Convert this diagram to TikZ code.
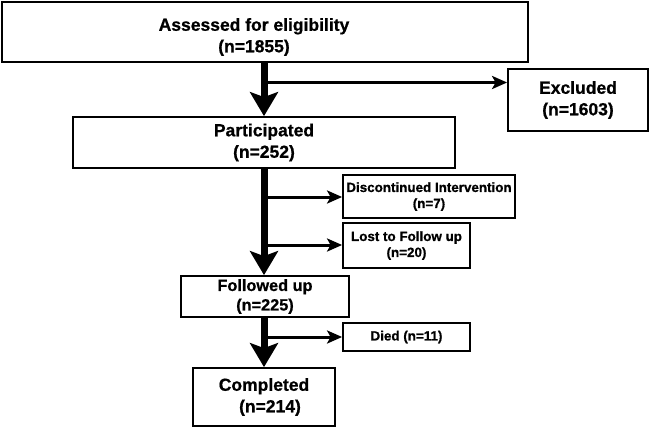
\documentclass[tikz,border=0pt]{standalone}
\usepackage{fontspec}
\setmainfont{Liberation Sans}[BoldFeatures={FakeBold=0.8}]
\usetikzlibrary{arrows.meta}
\begin{document}
\begin{tikzpicture}[x=1pt,y=-1pt,
  box/.style={draw, line width=1.8pt, rectangle, inner sep=0pt, align=center},
  bigfont/.style={font=\bfseries\fontsize{17.5}{21.5}\selectfont},
  midfont/.style={font=\bfseries\fontsize{16.3}{19.5}\selectfont},
  smallfont/.style={font=\bfseries\fontsize{13.4}{16}\selectfont},
  bigarrow/.style={line width=7pt, -{Stealth[length=24pt,width=28pt,inset=5pt]}},
  smallarrow/.style={line width=3pt, -{Stealth[length=15pt,width=13pt,inset=3.5pt]}}]
\useasboundingbox (0,0) rectangle (652,429);
\node[box,minimum width=526pt,minimum height=60pt] (assess) at (265,32) {};
\node[bigfont,align=center,inner sep=0pt] (assesstxt) at (254,37) {Assessed for eligibility\\(n=1855)};
\node[box,bigfont,minimum width=140pt,minimum height=62pt] (excl) at (578,100) {Excluded\\(n=1603)};
\node[box,bigfont,minimum width=382pt,minimum height=51pt] (part) at (264,142.5) {Participated\\(n=252)};
\node[box,smallfont,minimum width=172pt,minimum height=43pt] (disc) at (429,196.5) {Discontinued Intervention\\(n=7)};
\node[box,smallfont,minimum width=127pt,minimum height=45pt] (lost) at (406.5,245.5) {Lost to Follow up\\(n=20)};
\node[box,midfont,minimum width=168pt,minimum height=41pt] (follow) at (265,296.5) {Followed up\\(n=225)};
\node[box,smallfont,minimum width=127pt,minimum height=28pt] (died) at (406.5,337) {Died (n=11)};
\node[box,bigfont,minimum width=142pt,minimum height=58pt] (compl) at (264,397) {Completed\\\hspace*{12pt}(n=214)};
\coordinate (top) at (264,62);
\coordinate (e1) at (264,82.5);
\coordinate (e2) at (264,197);
\coordinate (e3) at (264,245);
\coordinate (e4) at (264,337);
\draw[bigarrow] (top) -- (top |- part.north);
\draw[bigarrow] (part.south -| top) -- (follow.north -| top);
\draw[bigarrow] (follow.south -| top) -- (compl.north -| top);
\draw[smallarrow] (e1) -- (e1 -| excl.west);
\draw[smallarrow] (e2) -- (e2 -| disc.west);
\draw[smallarrow] (e3) -- (e3 -| lost.west);
\draw[smallarrow] (e4) -- (e4 -| died.west);
\end{tikzpicture}
\end{document}
